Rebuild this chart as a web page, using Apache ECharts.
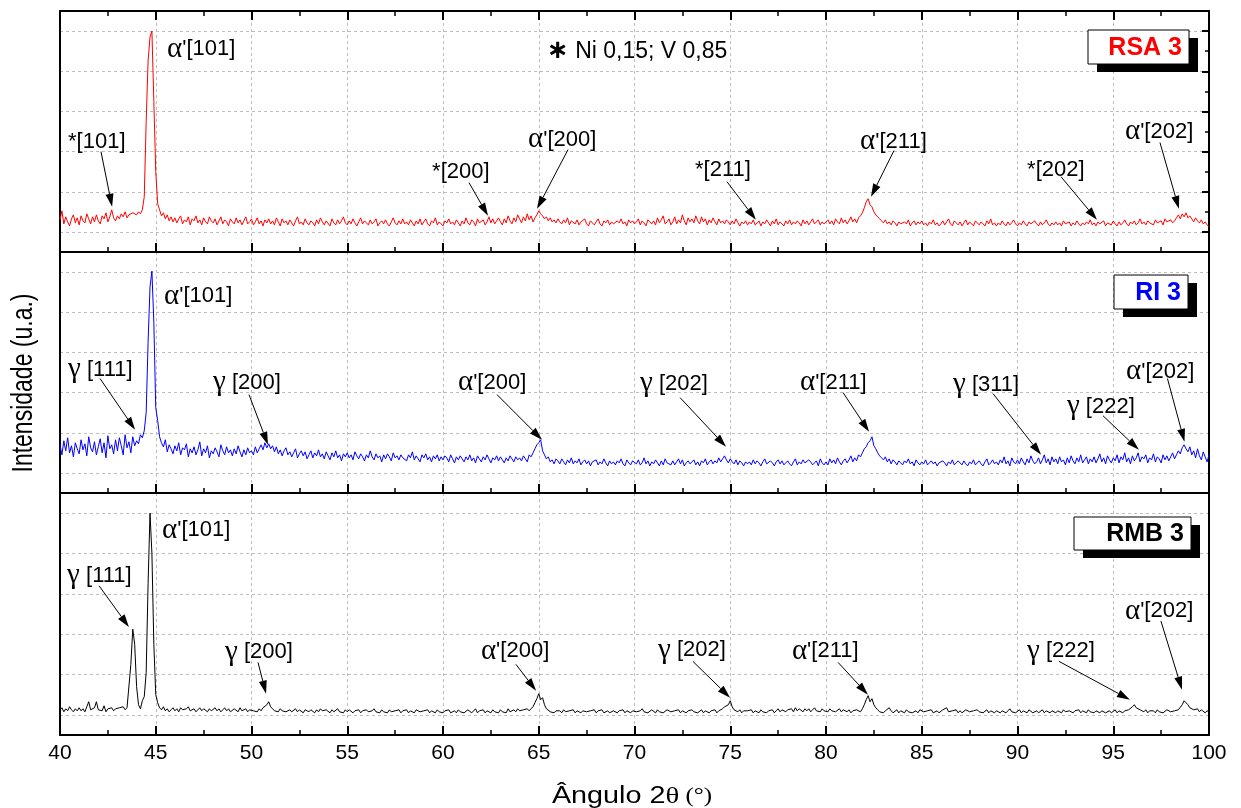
<!DOCTYPE html>
<html>
<head>
<meta charset="utf-8">
<script src="https://cdn.jsdelivr.net/npm/echarts@6/dist/echarts.min.js"></script>
<style>
html,body{margin:0;padding:0;background:#fff}
#chart{width:1241px;height:808px}
</style>
</head>
<body>
<div id="chart"></div>
<script>
// Scan grid: 2θ from 40° to 100° in 0.1° steps
const angleStart = 40;
const angleStep = 0.1;
const angleTicks = [40, 45, 50, 55, 60, 65, 70, 75, 80, 85, 90, 95, 100];

// Diffracted intensity (arbitrary units), one row per degree
const rsa3 = [
32,41,28,35,30,26,33,37,29,34,
27,36,31,29,38,33,28,35,30,37,
31,28,36,33,39,30,35,42,34,31,
36,33,38,35,40,34,37,36,39,38,
37,40,38,42,55,130,190,214,220,150,
80,48,42,36,39,33,37,31,35,30,
34,29,33,36,28,32,30,35,27,33,
31,36,29,32,27,34,30,28,35,31,
29,33,27,31,35,28,32,30,26,33,
30,28,34,29,32,27,31,35,28,30,
33,27,30,34,28,31,26,32,29,33,
28,31,27,34,30,26,33,29,31,27,
32,29,26,31,35,28,30,27,33,29,
27,31,29,26,32,28,34,30,27,31,
30,26,33,29,27,32,28,31,35,29,
27,31,28,33,29,26,30,34,28,31,
29,27,32,28,30,33,26,29,31,28,
32,28,26,30,34,29,27,31,28,33,
28,30,27,32,29,26,31,28,33,27,
30,33,28,26,31,29,34,27,30,28,
26,31,29,33,28,30,27,32,29,26,
31,28,34,29,27,32,30,26,33,29,
28,32,27,30,35,29,33,28,31,34,
30,27,33,29,36,31,28,34,30,37,
33,29,35,31,38,32,36,30,34,37,
41,38,36,33,35,31,34,30,32,29,
33,30,28,32,29,34,27,31,30,28,
32,27,30,29,33,28,26,31,29,27,
30,33,28,26,31,29,32,27,30,28,
27,31,29,33,28,30,26,32,29,31,
28,30,33,27,31,29,26,32,30,28,
31,27,34,29,32,36,28,30,33,27,
30,35,28,32,29,37,31,27,34,30,
33,29,36,31,28,35,30,33,27,32,
29,34,30,27,33,29,31,28,32,30,
27,31,28,33,29,26,30,28,31,27,
30,28,32,27,29,31,26,30,28,32,
29,26,31,28,33,27,30,29,26,31,
28,32,27,30,28,31,29,26,32,28,
31,27,30,33,28,29,32,27,30,28,
29,32,28,31,27,33,30,28,34,29,
32,28,31,35,30,33,29,34,36,39,
44,50,53,47,45,40,37,35,33,31,
29,32,28,30,27,31,29,26,30,28,
27,30,28,32,26,29,31,27,30,28,
31,27,29,26,30,28,32,27,29,26,
28,31,27,30,33,28,26,31,29,27,
30,26,29,32,27,30,28,26,31,29,
27,30,28,26,31,28,33,27,29,26,
29,27,31,28,26,30,27,29,32,28,
26,29,27,31,28,26,30,28,27,31,
28,26,30,27,29,32,28,26,29,27,
30,27,29,26,31,28,27,30,26,29,
27,31,28,26,29,27,30,28,32,27,
29,26,30,28,27,31,26,29,28,27,
31,28,26,30,27,29,32,28,26,30,
28,31,27,29,33,28,30,27,31,29,
30,27,32,29,28,31,27,33,30,29,
32,29,31,34,37,33,38,35,39,34,
36,33,30,34,31,29,32,28,30,27,
25
];

const ri3 = [
48,38,52,42,55,40,47,36,50,44,
39,53,43,49,37,56,45,41,51,38,
46,54,40,50,35,57,44,48,39,53,
42,55,47,38,58,45,51,40,56,47,
52,49,58,55,62,80,150,205,221,170,
85,72,56,50,46,53,41,48,44,39,
47,42,50,38,45,43,49,36,44,40,
46,38,43,51,37,44,40,47,35,42,
39,45,41,36,48,42,38,46,40,43,
37,44,39,47,41,36,43,38,45,40,
42,38,46,40,44,48,43,50,45,49,
44,47,41,46,39,43,37,42,45,38,
41,36,40,44,35,39,42,37,41,34,
38,42,35,40,37,43,36,39,34,41,
37,33,40,36,42,35,38,32,39,36,
40,35,38,33,41,37,34,39,36,32,
38,35,42,36,33,39,35,37,31,38,
34,39,36,32,40,35,37,33,38,35,
36,32,38,35,41,33,37,34,31,38,
35,39,33,36,31,37,34,38,32,36,
33,37,35,31,38,34,30,36,33,37,
34,31,36,33,38,32,35,30,37,34,
31,36,33,38,34,30,35,33,37,32,
36,33,30,35,32,37,34,31,36,33,
35,32,37,34,31,38,36,40,44,48,
50,53,42,38,34,36,31,33,29,34,
32,29,34,31,28,33,30,35,29,32,
30,34,28,31,33,29,32,27,31,30,
33,28,31,29,34,30,27,32,29,31,
28,32,30,34,29,27,33,30,28,32,
31,29,33,28,30,35,29,32,27,31,
29,33,30,27,32,28,34,30,31,28,
32,28,31,34,29,33,27,30,32,29,
30,33,28,31,27,32,30,34,28,31,
33,29,32,30,35,31,34,37,33,30,
34,31,29,33,28,32,30,27,31,29,
31,28,33,29,32,30,27,31,34,29,
28,32,30,27,31,33,29,32,28,30,
32,29,27,31,34,28,31,29,33,30,
29,33,31,28,30,32,27,34,30,28,
31,28,34,30,33,29,35,31,28,32,
34,30,33,37,31,35,32,38,36,40,
44,46,50,52,56,47,44,40,37,35,
33,36,31,34,29,33,31,28,32,30,
28,32,30,34,29,31,27,33,30,28,
31,29,33,28,30,32,29,31,27,30,
29,32,30,27,31,29,33,28,30,32,
30,28,32,29,27,31,29,33,28,30,
32,29,27,31,34,28,30,33,29,31,
28,33,30,36,29,32,27,35,31,29,
33,29,35,31,28,34,30,37,32,29,
31,35,29,33,38,30,34,28,36,31,
34,29,36,31,33,28,35,30,37,32,
29,35,31,38,30,33,36,29,34,31,
36,30,34,39,31,35,29,37,33,30,
35,32,38,30,36,33,40,31,35,29,
37,32,35,40,31,36,34,38,30,35,
33,39,31,36,34,30,38,33,37,32,
36,40,34,38,42,39,45,48,44,41,
46,38,42,35,44,37,33,41,36,31,
38
];

const rmb3 = [
25,27,23,26,24,28,25,23,26,24,
27,24,26,23,28,33,25,24,27,33,
25,26,24,29,23,26,25,27,24,26,
25,27,26,28,25,27,28,70,105,90,
48,30,26,34,38,62,150,220,180,90,
40,32,27,25,28,24,26,23,25,27,
24,26,23,27,25,24,26,28,24,25,
26,23,25,27,24,26,25,23,26,24,
25,27,24,26,23,25,27,24,26,23,
24,26,25,23,27,24,25,26,23,25,
26,24,25,23,26,24,27,28,30,33,
28,26,24,25,23,26,24,25,23,24,
25,23,24,26,23,25,24,22,25,24,
23,25,24,22,25,23,26,24,23,25,
24,22,25,23,24,26,23,24,22,25,
23,25,24,22,24,23,25,22,24,23,
25,23,22,24,26,23,24,22,25,23,
24,22,25,23,22,24,23,25,22,24,
23,25,22,24,23,22,25,24,23,22,
24,23,25,22,24,23,22,25,23,24,
22,24,23,25,22,23,24,22,25,23,
24,22,23,25,24,22,23,26,22,24,
23,25,22,24,23,22,25,23,24,22,
25,23,24,22,26,23,24,25,23,26,
24,23,25,24,26,24,26,28,32,36,
41,35,37,30,26,25,23,24,22,24,
23,24,22,25,23,22,24,23,25,22,
24,23,22,24,25,23,22,24,23,25,
22,24,23,25,22,23,24,22,23,24,
23,22,24,23,25,22,24,23,22,24,
25,23,22,24,26,23,24,22,23,25,
24,22,25,23,24,22,23,25,24,23,
22,24,23,25,22,24,23,22,24,23,
25,23,24,22,23,25,22,24,23,22,
24,23,25,22,24,23,26,28,27,30,
34,28,25,24,23,25,22,24,23,24,
23,25,22,24,23,22,25,23,24,22,
24,23,25,22,24,26,23,25,24,23,
25,24,26,23,27,24,26,25,23,26,
24,26,23,25,27,24,25,23,26,24,
25,23,26,24,25,23,24,26,23,25,
24,23,25,22,24,23,25,24,23,26,
30,35,39,33,36,30,27,25,23,24,
22,24,23,27,24,22,23,25,22,24,
23,22,25,23,24,22,23,24,22,25,
24,23,22,24,23,25,22,23,24,22,
23,25,24,27,23,22,24,23,25,22,
24,22,23,25,24,23,22,24,23,25,
23,24,22,23,25,22,24,23,22,24,
25,22,24,23,22,24,26,23,24,22,
23,25,22,24,23,22,25,24,22,23,
24,22,23,25,22,24,23,22,24,23,
22,24,23,22,25,23,22,24,23,22,
24,23,25,22,24,23,22,25,23,24,
22,24,23,22,24,25,22,23,24,22,
23,25,22,24,23,22,24,23,25,26,
28,30,27,28,25,24,23,25,22,24,
23,24,22,25,23,24,22,23,25,24,
23,22,24,23,25,26,30,34,32,30,
27,28,25,24,26,23,25,24,22,24,
23
];

const sampleNames = ['RSA 3', 'RI 3', 'RMB 3'];
const sampleColors = ['#ff0000', '#0000ff', '#000000'];

// Reflection labels: [text, label anchor (2θ, intensity), arrow tail, arrow tip]
const notesRSA = [
  ["α'[101]", [45.59, 202]],
  ['*[101]', [40.42, 110], [42.14, 100], [42.72, 45]],
  ['*[200]', [59.43, 80], [61.36, 69], [62.35, 36]],
  ["α'[200]", [64.44, 112], [66.53, 102], [64.91, 43]],
  ['*[211]', [73.16, 82], [74.83, 70], [76.34, 32]],
  ["α'[211]", [81.78, 110], [83.55, 101], [82.35, 55]],
  ['*[202]', [90.50, 82], [92.27, 75], [94.15, 32]],
  ["α'[202]", [95.61, 120], [97.44, 109], [98.43, 43]]
];
const notesRI = [
  ["α'[101]", [45.43, 196]],
  ['γ [111]', [40.42, 123], [42.09, 114], [43.92, 63]],
  ['γ [200]', [47.99, 110], [49.87, 98], [50.86, 48]],
  ["α'[200]", [60.78, 110], [62.82, 98], [65.17, 53]],
  ['γ [202]', [70.29, 109], [72.38, 95], [74.78, 46]],
  ["α'[211]", [78.64, 110], [80.89, 100], [82.25, 61]],
  ['γ [311]', [86.63, 108], [88.72, 99], [91.23, 38]],
  ['γ [222]', [92.58, 86], [94.46, 77], [96.34, 43]],
  ["α'[202]", [95.67, 121], [97.83, 114], [98.72, 51]]
];
const notesRMB = [
  ["α'[101]", [45.33, 203]],
  ['γ [111]', [40.37, 158], [42.04, 148], [43.60, 107]],
  ['γ [200]', [48.62, 82], [50.34, 72], [50.76, 41]],
  ["α'[200]", [61.98, 83], [63.81, 70], [64.86, 44]],
  ['γ [202]', [71.23, 84], [73.05, 73], [74.99, 37]],
  ["α'[211]", [78.22, 83], [80.63, 72], [82.19, 40]],
  ['γ [222]', [90.50, 83], [92.17, 73], [95.87, 35]],
  ["α'[202]", [95.61, 123], [97.49, 113], [98.59, 45]]
];
const sampleNotes = [notesRSA, notesRI, notesRMB];
const compositionNote = ['Ni 0,15; V 0,85', [65.43, 200]];

// ---- layout ----
const plotLeft = 60, plotWidth = 1149;
const panelLayout = [
  { top: 11, height: 241 },
  { top: 252, height: 241 },
  { top: 493, height: 242 }
];
const tagBoxes = [
  { x: 1088, y: 30, w: 101, h: 34 },
  { x: 1114, y: 275, w: 74, h: 34 },
  { x: 1074, y: 517, w: 117, h: 33 }
];
const intensityMax = 240;
const bands = ['b1', 'b2', 'b3', 'b4', 'b5', 'b6'];

const sans = 'Liberation Sans';
const serif = "'Liberation Serif', 'DejaVu Serif', serif";
const frame = { show: true, lineStyle: { color: '#000', width: 2 } };
const dotted = { color: '#bdbdbd', width: 1, type: [3, 3] };

const chart = echarts.init(document.getElementById('chart'), null, { renderer: 'canvas' });

const grid = [], xAxis = [], yAxis = [], series = [];
const xMin = angleTicks[0], xMax = angleTicks[angleTicks.length - 1];
const xStep = angleTicks[1] - angleTicks[0];

panelLayout.forEach((pl, p) => {
  grid.push({ left: plotLeft, width: plotWidth, top: pl.top, height: pl.height });
  const bottomIdx = xAxis.length;
  xAxis.push({
    type: 'value', gridIndex: p, position: 'bottom', min: xMin, max: xMax, interval: xStep,
    axisLine: frame,
    axisTick: { show: true, inside: true, length: 9, lineStyle: { color: '#000', width: 2 } },
    minorTick: { show: true, splitNumber: 2, length: 5, lineStyle: { color: '#000', width: 1.5 } },
    axisLabel: { show: p === 2, color: '#000', fontSize: 21, fontFamily: sans, margin: 8 },
    splitLine: { show: true, showMinLine: false, showMaxLine: false, lineStyle: dotted },
    minorSplitLine: { show: false }
  });
  xAxis.push({
    type: 'value', gridIndex: p, position: 'top', min: xMin, max: xMax, interval: xStep,
    axisLine: frame,
    axisTick: { show: p === 0, inside: true, length: 9, lineStyle: { color: '#000', width: 2 } },
    minorTick: { show: p === 0, splitNumber: 2, length: 5, lineStyle: { color: '#000', width: 1.5 } },
    axisLabel: { show: false },
    splitLine: { show: false }
  });
  const dataIdx = yAxis.length;
  yAxis.push({
    type: 'value', gridIndex: p, position: 'left', min: 0, max: intensityMax,
    axisLine: frame, axisTick: { show: false }, axisLabel: { show: false }, splitLine: { show: false }
  });
  // horizontal dotted grid, centred in six bands
  yAxis.push({
    type: 'category', gridIndex: p, position: 'right', data: bands, boundaryGap: true,
    axisLine: frame,
    axisTick: { show: p === 0, inside: true, alignWithLabel: true, length: 7, lineStyle: { color: '#000', width: 2 } },
    axisLabel: { show: false },
    splitLine: { show: true, alignWithLabel: true, lineStyle: dotted }
  });
  if (p === 0) {
    yAxis.push({
      type: 'category', gridIndex: p, position: 'right', data: bands, boundaryGap: true,
      axisLine: { show: false },
      axisTick: { show: true, inside: true, length: 4, lineStyle: { color: '#000', width: 1.5 } },
      axisLabel: { show: false }, splitLine: { show: false }
    });
  }
  const values = [rsa3, ri3, rmb3][p];
  series.push({
    type: 'line', name: sampleNames[p], xAxisIndex: bottomIdx, yAxisIndex: dataIdx,
    data: values.map((v, i) => [+(angleStart + i * angleStep).toFixed(1), v]),
    showSymbol: false, symbol: 'none', silent: true, z: 3,
    lineStyle: { color: sampleColors[p], width: 1 }, itemStyle: { color: sampleColors[p] }
  });
});

chart.setOption({ animation: false, backgroundColor: '#fff', grid, xAxis, yAxis, series });

// ---- labels, arrows and sample tags ----
const toPx = (p, pt) => chart.convertToPixel({ seriesIndex: p }, pt);
const greek = { fontFamily: serif, fontSize: 29, fill: '#000' };
const richText = s => s.replace(/([αγ])/g, '{g|$1}');

const elements = [];
sampleNotes.forEach((notes, p) => {
  notes.forEach(n => {
    const at = toPx(p, n[1]);
    elements.push({
      type: 'text', z: 100, silent: true, x: at[0], y: at[1],
      style: { text: richText(n[0]), fontFamily: sans, fontSize: 22, fill: '#000',
               align: 'left', verticalAlign: 'middle', rich: { g: greek } }
    });
    if (n[2]) {
      const a = toPx(p, n[2]), b = toPx(p, n[3]);
      const dx = b[0] - a[0], dy = b[1] - a[1], len = Math.hypot(dx, dy);
      const ux = dx / len, uy = dy / len, head = 13, half = 4;
      const bx = b[0] - ux * head, by = b[1] - uy * head;
      elements.push({ type: 'line', z: 100, silent: true,
        shape: { x1: a[0], y1: a[1], x2: bx, y2: by }, style: { stroke: '#000', lineWidth: 1 } });
      elements.push({ type: 'polygon', z: 100, silent: true,
        shape: { points: [[b[0], b[1]], [bx - uy * half, by + ux * half], [bx + uy * half, by - ux * half]] },
        style: { fill: '#000' } });
    }
  });
});

const cn = toPx(0, compositionNote[1]);
elements.push({
  type: 'text', z: 100, silent: true, x: cn[0], y: cn[1],
  style: { text: '{s|∗} ' + compositionNote[0], fontFamily: sans, fontSize: 23, fill: '#000',
           align: 'left', verticalAlign: 'middle',
           rich: { s: { fontFamily: 'DejaVu Sans', fontWeight: 'bold', fontSize: 26, fill: '#000' } } }
});

tagBoxes.forEach((b, p) => {
  elements.push({ type: 'rect', z: 110, silent: true, shape: { x: b.x + 9, y: b.y + 8, width: b.w, height: b.h }, style: { fill: '#000' } });
  elements.push({ type: 'rect', z: 111, silent: true, shape: { x: b.x, y: b.y, width: b.w, height: b.h }, style: { fill: '#fff', stroke: '#000', lineWidth: 1 } });
  elements.push({ type: 'text', z: 112, silent: true, x: b.x + b.w - 7, y: b.y + b.h / 2 + 1,
    style: { text: sampleNames[p], fontFamily: sans, fontWeight: 'bold', fontSize: 25, fill: sampleColors[p], align: 'right', verticalAlign: 'middle' } });
});

// axis titles
elements.push({
  type: 'text', z: 100, silent: true, x: 24, y: 383, rotation: Math.PI / 2, scaleY: 1.25,
  style: { text: 'Intensidade (u.a.)', fontFamily: sans, fontSize: 23, fill: '#000', align: 'center', verticalAlign: 'middle' }
});
elements.push({
  type: 'text', z: 100, silent: true, x: 632, y: 797, scaleX: 1.25,
  style: { text: '{s|Ângulo 2}{t|θ}{u| (°)}', fill: '#000', align: 'center', verticalAlign: 'middle',
           rich: { s: { fontFamily: sans, fontSize: 23, fill: '#000' },
                   t: { fontFamily: serif, fontSize: 23, fill: '#000' },
                   u: { fontFamily: serif, fontSize: 20, fill: '#000' } } }
});

chart.setOption({ graphic: { elements } });
</script>
</body>
</html>
